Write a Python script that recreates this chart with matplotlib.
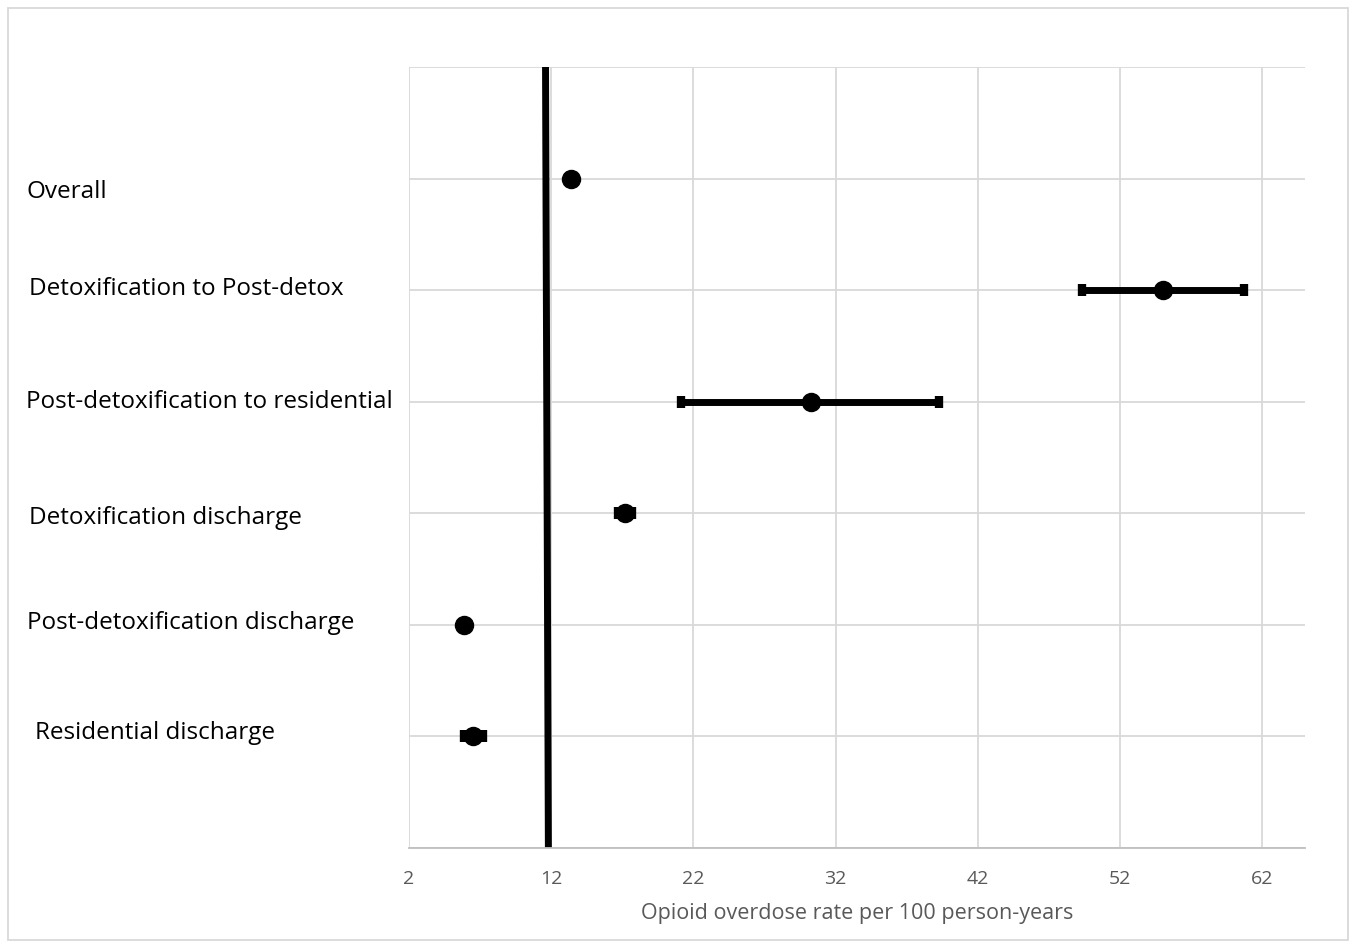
import matplotlib
matplotlib.use("Agg")
import matplotlib.pyplot as plt
from matplotlib.patches import Rectangle

categories = ["Overall", "Detoxification to Post-detox", "Post-detoxification to residential",
              "Detoxification discharge", "Post-detoxification discharge", "Residential discharge"]
rates = [13.4, 55.0, 30.3, 17.2, 5.9, 6.5]
ci_low = [13.4, 49.3, 21.1, 16.7, 5.9, 5.9]
ci_high = [13.4, 60.7, 39.3, 17.7, 5.9, 7.2]
y_pos = [6, 5, 4, 3, 2, 1]
reference_rate = 11.7
xticks = [2, 12, 22, 32, 42, 52, 62]

plt.rcParams['font.family'] = ['Open Sans', 'DejaVu Sans']

fig = plt.figure(figsize=(13.55, 9.48), dpi=100)
W, H = 1355, 948
ax = fig.add_axes([409 / W, 1 - 848 / H, (1305 - 409) / W, (848 - 67) / H])

ax.set_xlim(2, 65)
ax.set_ylim(0, 7)
ax.set_xticks(xticks)
ax.set_yticks(range(0, 8))
ax.set_yticklabels([])
ax.grid(True, color='#d9d9d9', linewidth=1.3)
ax.set_axisbelow(True)
for s in ['top', 'right', 'left']:
    ax.spines[s].set_visible(False)
ax.spines['bottom'].set_color('#bfbfbf')
ax.spines['bottom'].set_linewidth(1.3)
ax.tick_params(axis='both', length=0)
ax.tick_params(axis='x', labelsize=14, labelcolor='#595959', pad=16)
ax.set_xlabel("Opioid overdose rate per 100 person-years", fontsize=15.5, color='#595959', labelpad=11)

for y, r, lo, hi in zip(y_pos, rates, ci_low, ci_high):
    ax.errorbar([r], [y], xerr=[[r - lo], [hi - r]], fmt='o', color='black', ms=13,
                elinewidth=5, capsize=4, capthick=6, zorder=3)

ax.plot([reference_rate - 0.1, reference_rate + 0.1], [7, 0], color='black', linewidth=5, zorder=2)

label_pos = [(26, 192), (29, 289), (26, 402), (29, 518), (27, 623), (35, 733)]
for cat, (px, py) in zip(categories, label_pos):
    fig.text(px / W, 1 - py / H, cat, fontsize=17.5, color='black', ha='left', va='center')

fig.patches.append(Rectangle((8 / W, 8 / H), (1348 - 8) / W, (940 - 8) / H,
                             transform=fig.transFigure, fill=False, edgecolor='#d9d9d9', linewidth=1.3))

fig.savefig("out.png", dpi=100, facecolor='white')
